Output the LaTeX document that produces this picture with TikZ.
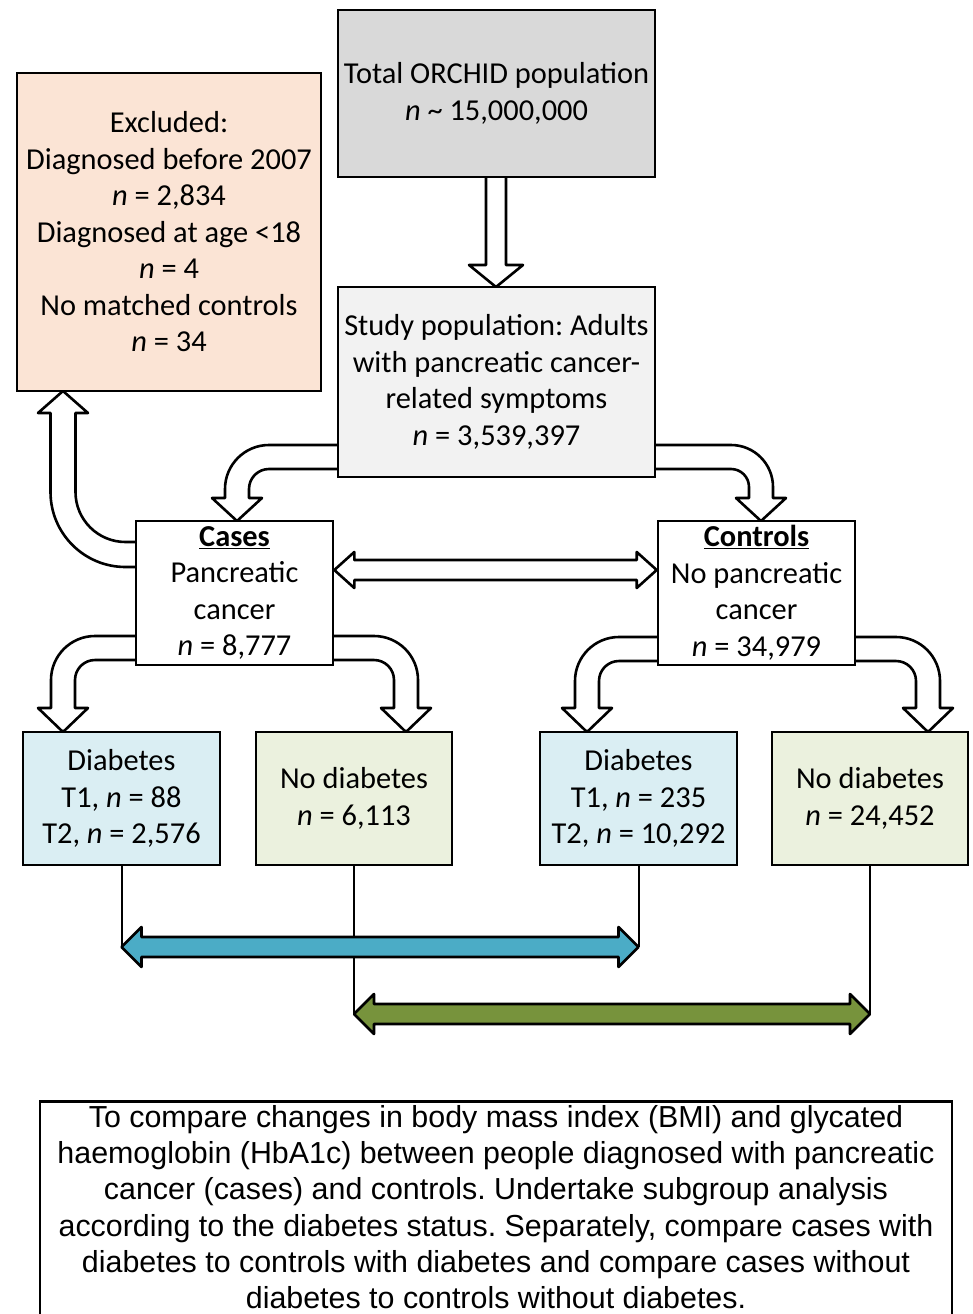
\documentclass[tikz,border=0pt]{standalone}
\usepackage{fontspec}
\setmainfont{Carlito}
\newfontfamily\arialf{Liberation Sans}
\usetikzlibrary{calc}
\frenchspacing
\definecolor{totfill}{HTML}{D9D9D9}
\definecolor{excfill}{HTML}{FBE4D5}
\definecolor{studyfill}{HTML}{F2F2F2}
\definecolor{diabfill}{HTML}{DAEEF3}
\definecolor{nodiabfill}{HTML}{EBF1DE}
\definecolor{arrblue}{HTML}{4BACC6}
\definecolor{arrgreen}{HTML}{77933C}
% right-then-down block arrow: x0, yt, w, xc, ri, hb, tip, hw
\newcommand\RDarrow[8]{%
\pgfmathsetmacro\ArIx{#4-#3/2}\pgfmathsetmacro\ArOx{#4+#3/2}%
\pgfmathsetmacro\ArYb{#2+#3}\pgfmathsetmacro\ArCx{\ArIx-#5}%
\pgfmathsetmacro\ArCy{\ArYb+#5}\pgfmathsetmacro\ArRo{#5+#3}%
\pgfmathsetmacro\ArHl{#4-#8}\pgfmathsetmacro\ArHr{#4+#8}%
\draw[blockarrow] (#1,#2) -- (\ArCx,#2) arc[start angle=-90,end angle=0,radius=\ArRo]
 -- (\ArOx,#6) -- (\ArHr,#6) -- (#4,#7) -- (\ArHl,#6) -- (\ArIx,#6) -- (\ArIx,\ArCy)
 arc[start angle=0,end angle=-90,radius=#5] -- (#1,\ArYb);}
% left-then-down block arrow
\newcommand\LDarrow[8]{%
\pgfmathsetmacro\ArIx{#4+#3/2}\pgfmathsetmacro\ArOx{#4-#3/2}%
\pgfmathsetmacro\ArYb{#2+#3}\pgfmathsetmacro\ArCx{\ArIx+#5}%
\pgfmathsetmacro\ArCy{\ArYb+#5}\pgfmathsetmacro\ArRo{#5+#3}%
\pgfmathsetmacro\ArHl{#4-#8}\pgfmathsetmacro\ArHr{#4+#8}%
\draw[blockarrow] (#1,#2) -- (\ArCx,#2) arc[start angle=-90,end angle=-180,radius=\ArRo]
 -- (\ArOx,#6) -- (\ArHl,#6) -- (#4,#7) -- (\ArHr,#6) -- (\ArIx,#6) -- (\ArIx,\ArCy)
 arc[start angle=180,end angle=270,radius=#5] -- (#1,\ArYb);}
% left-then-up block arrow: x0, yi (inner, top edge), w, xc, ri, hb, tip, hw
\newcommand\LUarrow[8]{%
\pgfmathsetmacro\ArIx{#4+#3/2}\pgfmathsetmacro\ArOx{#4-#3/2}%
\pgfmathsetmacro\ArYo{#2+#3}\pgfmathsetmacro\ArCx{\ArIx+#5}%
\pgfmathsetmacro\ArCy{#2-#5}\pgfmathsetmacro\ArRo{#5+#3}%
\pgfmathsetmacro\ArHl{#4-#8}\pgfmathsetmacro\ArHr{#4+#8}%
\draw[blockarrow] (#1,\ArYo) -- (\ArCx,\ArYo) arc[start angle=90,end angle=180,radius=\ArRo]
 -- (\ArOx,#6) -- (\ArHl,#6) -- (#4,#7) -- (\ArHr,#6) -- (\ArIx,#6) -- (\ArIx,\ArCy)
 arc[start angle=180,end angle=90,radius=#5] -- (#1,#2);}
% horizontal double block arrow: left tip, right tip, shaft half, head half, head length, style
\newcommand\DblArrow[6]{%
\draw[#6] (#1) -- ($(#1)+(#5,#4)$) -- ($(#1)+(#5,#3)$) -- ($(#2)+(-#5,#3)$) -- ($(#2)+(-#5,#4)$)
 -- (#2) -- ($(#2)+(-#5,-#4)$) -- ($(#2)+(-#5,-#3)$) -- ($(#1)+(#5,-#3)$) -- ($(#1)+(#5,-#4)$) -- cycle;}
\begin{document}
\begin{tikzpicture}[x=1pt,y=-1pt,
  box/.style={draw, line width=2.6pt, inner sep=0pt, align=center,
    font=\fontsize{30.4}{36.5}\selectfont},
  blockarrow/.style={draw, fill=white, line width=2.6pt, line join=round},
  thinline/.style={draw, line width=2pt},
  colarrow/.style={draw, line width=2.6pt, line join=round, fill=#1}]
\useasboundingbox (0,0) rectangle (972,1314);
\clip (0,0) rectangle (972,1314);

% block arrows (drawn first; boxes sit on top)
\draw[blockarrow] (486,177) -- (486,265) -- (469,265) -- (496,287) -- (523,265) -- (506,265) -- (506,177);
\LDarrow{338}{445}{24}{237}{20}{498}{521}{25}
\RDarrow{655}{445}{24}{761}{18}{498}{521}{25}
\LUarrow{136}{542}{25}{63}{50}{413}{391}{25}
\LDarrow{136}{636}{24}{63}{20}{708}{732}{25}
\RDarrow{333}{636}{24}{406}{20}{708}{732}{25}
\LDarrow{658}{637}{24}{587}{20}{708}{732}{25}
\RDarrow{855}{637}{24}{928}{20}{708}{732}{25}

% boxes
\node[box, fill=totfill, minimum width=317pt, minimum height=167pt] (tot) at (496.5,93.5)
  {Total ORCHID population\\\textit{n} \textasciitilde{} 15,000,000};
\node[box, fill=excfill, minimum width=304pt, minimum height=318pt] (exc) at (169,232)
  {Excluded:\\Diagnosed before 2007\\\textit{n} = 2,834\\Diagnosed at age <18\\\textit{n} = 4\\No matched controls\\\textit{n} = 34};
\node[box, fill=studyfill, minimum width=317pt, minimum height=190pt] (study) at (496.5,382)
  {Study population: Adults\\with pancreatic cancer-\\related symptoms\\\textit{n} = 3,539,397};
\node[box, fill=white, minimum width=197pt, minimum height=144pt] (cases) at (234.5,593)
  {\textbf{\underline{Cases}}\\Pancreatic\\cancer\\\textit{n} = 8,777};
\node[box, fill=white, minimum width=197pt, minimum height=144pt] (controls) at (756.5,593)
  {\textbf{\underline{Controls}}\\No pancreatic\\cancer\\\textit{n} = 34,979};
\node[box, fill=diabfill, minimum width=197pt, minimum height=133pt] (d1) at (121.5,798.5)
  {Diabetes\\T1, \textit{n} = 88\\T2, \textit{n} = 2,576};
\node[box, fill=nodiabfill, minimum width=196pt, minimum height=133pt] (nd1) at (354,798.5)
  {No diabetes\\\textit{n} = 6,113};
\node[box, fill=diabfill, minimum width=197pt, minimum height=133pt] (d2) at (638.5,798.5)
  {Diabetes\\T1, \textit{n} = 235\\T2, \textit{n} = 10,292};
\node[box, fill=nodiabfill, minimum width=196pt, minimum height=133pt] (nd2) at (870,798.5)
  {No diabetes\\\textit{n} = 24,452};

% cases <-> controls
\coordinate (cc1) at (cases.east |- 0,570);
\coordinate (cc2) at (controls.west |- 0,570);
\DblArrow{cc1}{cc2}{10}{18}{20}{blockarrow}

% comparison connectors
\coordinate (b1) at (d1.south |- 0,947);
\coordinate (b2) at (d2.south |- 0,947);
\coordinate (g1) at (nd1.south |- 0,1014);
\coordinate (g2) at (nd2.south |- 0,1014);
\draw[thinline] (d1.south) -- (b1);
\draw[thinline] (d2.south) -- (b2);
\draw[thinline] (nd1.south) -- (g1);
\draw[thinline] (nd2.south) -- (g2);
\DblArrow{b1}{b2}{10}{20}{20}{colarrow=arrblue}
\DblArrow{g1}{g2}{10}{20}{20}{colarrow=arrgreen}

% aim box (runs past the lower edge of the picture)
\node[draw, line width=2.6pt, anchor=north, minimum width=912pt, minimum height=250pt,
  inner sep=0pt] (aim) at (496,1100) {};
\node[inner sep=0pt, align=center, font=\arialf\fontsize{30.4}{36.3}\selectfont] (aimtext) at (496,1207)
  {To compare changes in body mass index (BMI) and glycated\\
   haemoglobin (HbA1c) between people diagnosed with pancreatic\\
   cancer (cases) and controls. Undertake subgroup analysis\\
   according to the diabetes status. Separately, compare cases with\\
   diabetes to controls with diabetes and compare cases without\\
   diabetes to controls without diabetes.};
\end{tikzpicture}
\end{document}
